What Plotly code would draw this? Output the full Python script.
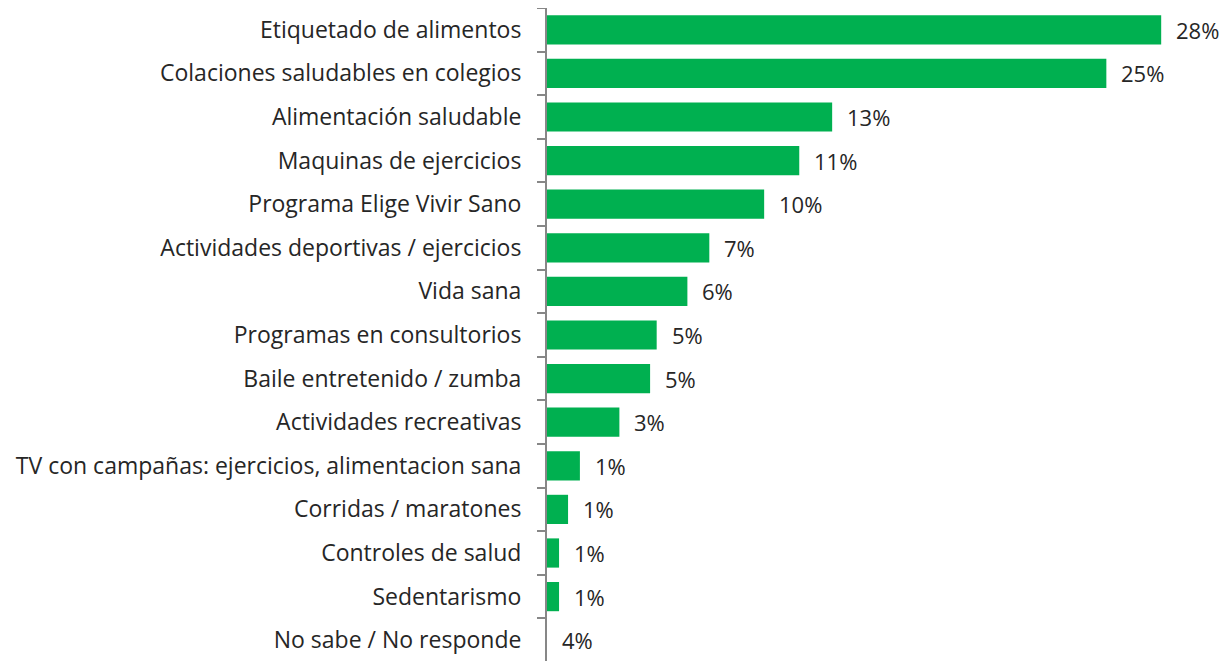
import plotly.graph_objects as go

categories = [
    "Etiquetado de alimentos",
    "Colaciones saludables en colegios",
    "Alimentación saludable",
    "Maquinas de ejercicios",
    "Programa Elige Vivir Sano",
    "Actividades deportivas / ejercicios",
    "Vida sana",
    "Programas en consultorios",
    "Baile entretenido / zumba",
    "Actividades recreativas",
    "TV con campañas: ejercicios, alimentacion sana",
    "Corridas / maratones",
    "Controles de salud",
    "Sedentarismo",
    "No sabe / No responde",
]
values = [28.0, 25.5, 13.0, 11.5, 9.9, 7.4, 6.4, 5.0, 4.7, 3.3, 1.5, 0.96, 0.55, 0.55, 0]
labels = ["28%", "25%", "13%", "11%", "10%", "7%", "6%", "5%", "5%", "3%", "1%", "1%", "1%", "1%", "4%"]

FONT = "Open Sans"
TXT = "#262626"

fig = go.Figure(go.Bar(
    x=values, y=categories, orientation="h",
    marker=dict(color="#00B050", line=dict(width=0)),
    width=0.67, hoverinfo="skip",
))

for c, v, t in zip(categories, values, labels):
    fig.add_annotation(x=v, y=c, text=t, showarrow=False, xanchor="left",
                       xshift=13, font=dict(family=FONT, size=22, color=TXT))

fig.update_layout(
    width=1227, height=654,
    margin=dict(l=539, r=8, t=0, b=0, autoexpand=False),
    paper_bgcolor="white", plot_bgcolor="white",
    showlegend=False,
    xaxis=dict(range=[0, 31.0], visible=False, fixedrange=True, automargin=False),
    yaxis=dict(
        autorange="reversed", type="category", automargin=False,
        tickson="boundaries", ticks="outside", ticklen=8, tickcolor="#878787", tickwidth=2,
        showline=True, linecolor="#878787", linewidth=2,
        showgrid=False, zeroline=False,
        tickfont=dict(family=FONT, size=23, color=TXT),
        ticklabelstandoff=19,
    ),
)

fig.write_html("out.html")
